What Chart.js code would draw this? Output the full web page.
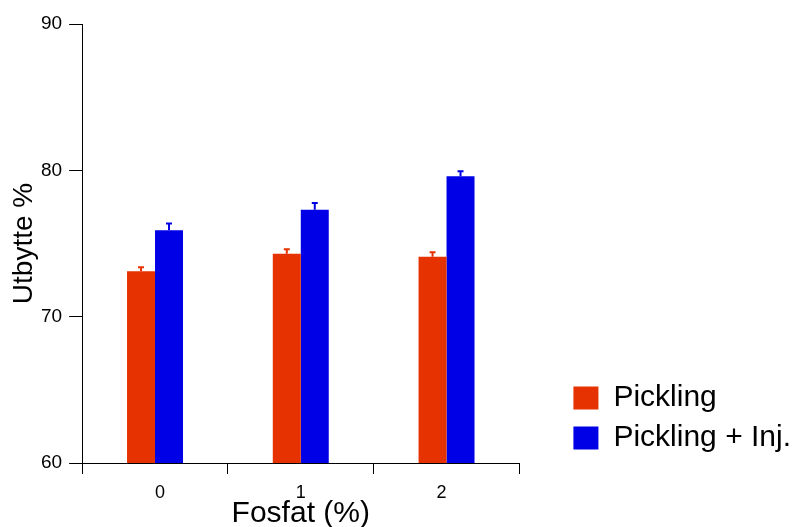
<!DOCTYPE html>
<html>
<head>
<meta charset="utf-8">
<script src="https://cdn.jsdelivr.net/npm/chart.js@4/dist/chart.umd.min.js"></script>
<style>
  html, body { margin: 0; padding: 0; background: #fff; }
  #wrap { width: 799px; height: 527px; }
</style>
</head>
<body>
<div id="wrap"><canvas id="mycanvas" width="799" height="527"></canvas></div>
<script>
var fosfat = ['0', '1', '2'];
var pickling = [73.1, 74.3, 74.1];
var picklingErr = [0.27, 0.31, 0.31];
var picklingInj = [75.9, 77.3, 79.6];
var picklingInjErr = [0.46, 0.46, 0.34];
var yTicks = [60, 70, 80, 90];

var FONT = "'Liberation Sans', Arial, Helvetica, sans-serif";

// upper whisker + cap on each bar
var errorBars = {
  id: 'errorBars',
  afterDatasetsDraw: function(chart) {
    var ctx = chart.ctx;
    var yScale = chart.scales.y;
    chart.data.datasets.forEach(function(ds, di) {
      var meta = chart.getDatasetMeta(di);
      meta.data.forEach(function(bar, i) {
        var top = yScale.getPixelForValue(ds.data[i] + ds.errors[i]);
        ctx.save();
        ctx.strokeStyle = ds.backgroundColor;
        ctx.lineWidth = 2;
        ctx.beginPath();
        ctx.moveTo(bar.x, bar.y);
        ctx.lineTo(bar.x, top);
        ctx.moveTo(bar.x - 3, top);
        ctx.lineTo(bar.x + 3, top);
        ctx.stroke();
        ctx.restore();
      });
    });
  }
};

var chartdata = {
  labels: fosfat,
  datasets: [
    {
      label: 'Pickling',
      backgroundColor: '#e53200',
      data: pickling,
      errors: picklingErr
    },
    {
      label: 'Pickling + Inj.',
      backgroundColor: '#0000e6',
      data: picklingInj,
      errors: picklingInjErr
    }
  ]
};

var ctx = document.getElementById('mycanvas');

var barGraph = new Chart(ctx, {
  type: 'bar',
  data: chartdata,
  plugins: [errorBars],
  options: {
    responsive: false,
    animation: false,
    layout: { padding: { left: 2, top: 24, right: -2, bottom: 0 } },
    datasets: {
      bar: { barPercentage: 1.0, categoryPercentage: 0.384 }
    },
    plugins: {
      tooltip: { enabled: false },
      legend: {
        position: 'right',
        align: 'end',
        fullSize: false,
        maxWidth: 260,
        labels: {
          color: '#000',
          boxWidth: 25,
          boxHeight: 23,
          padding: 10,
          font: { family: FONT, size: 30 }
        }
      }
    },
    scales: {
      x: {
        afterFit: function(scale) { scale.height = 64; },
        grid: {
          display: true,
          offset: true,
          drawOnChartArea: false,
          drawTicks: true,
          tickLength: 11,
          color: '#000'
        },
        border: { display: true, color: '#000', width: 1 },
        ticks: {
          color: '#000',
          padding: 10,
          align: 'inner',
          maxRotation: 0,
          font: { family: FONT, size: 18, lineHeight: 1 }
        },
        title: {
          display: true,
          text: 'Fosfat (%)',
          color: '#000',
          padding: { top: 0, bottom: -2 },
          font: { family: FONT, size: 30, lineHeight: 1 }
        }
      },
      y: {
        min: 60,
        max: 90,
        afterBuildTicks: function(scale) {
          scale.ticks = yTicks.map(function(v) { return { value: v }; });
        },
        grid: {
          display: true,
          drawOnChartArea: false,
          drawTicks: true,
          tickLength: 13,
          color: '#000'
        },
        border: { display: true, color: '#000', width: 1 },
        ticks: {
          color: '#000',
          padding: 7,
          font: { family: FONT, size: 19 }
        },
        title: {
          display: true,
          text: 'Utbytte %',
          color: '#000',
          padding: { top: 8, bottom: -4 },
          font: { family: FONT, size: 28, lineHeight: 1 }
        }
      },
      gap: {
        type: 'linear',
        axis: 'y',
        position: 'right',
        display: true,
        grid: { display: false },
        border: { display: false },
        ticks: { display: false },
        afterFit: function(scale) { scale.width = 44; }
      }
    }
  }
});
</script>
</body>
</html>
